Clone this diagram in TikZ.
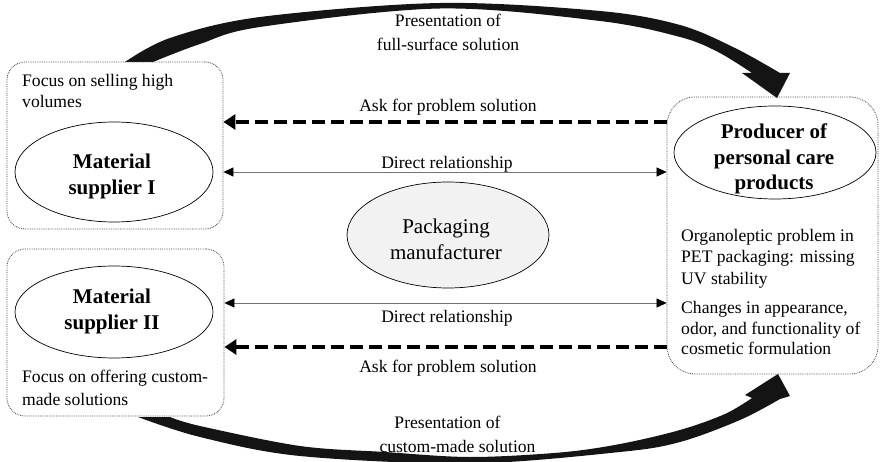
\documentclass[tikz,border=0pt]{standalone}
\usepackage{fontspec}
\setmainfont{Liberation Serif}
\usetikzlibrary{arrows.meta,shapes.geometric}
\begin{document}
\begin{tikzpicture}[x=1pt,y=-1pt,
  panel/.style={draw=black!75, densely dotted, line width=0.8pt, rectangle, inner sep=0pt},
  actor/.style={draw=black, line width=0.7pt, ellipse, inner sep=0pt},
  actortext/.style={font=\fontsize{21}{26}\selectfont\bfseries, align=center, inner sep=0pt, anchor=base},
  bodytext/.style={font=\fontsize{17.6}{21.5}\selectfont, inner sep=0pt, anchor=base west, align=left},
  flowlabel/.style={font=\fontsize{17.6}{24}\selectfont, inner sep=0pt, anchor=base, align=center},
  relation/.style={draw=black!55, line width=0.7pt,
    {Triangle[length=10pt,width=9pt,black]}-{Triangle[length=10pt,width=9pt,black]}},
  request/.style={draw=black, line width=4pt, dash pattern=on 12.5pt off 6.5pt,
    -{Triangle[length=12pt,width=15pt]}},
  bigflow/.style={fill=black!92},
]
\useasboundingbox (0,0) rectangle (880,462);

% heavy curved flows: offers presented to the producer
\fill[bigflow] plot[smooth, tension=0.55] coordinates
    {(125,62) (170,38) (260,17) (440,3) (600,11) (680,25) (735,48) (780,73)}
  -- (790,73) -- (777,98) -- (742,73) -- (752,73)
  -- plot[smooth, tension=0.55] coordinates
    {(752,73) (718,52) (680,37) (600,21) (440,8.5) (260,27) (200,44) (153,62)} -- cycle;
\fill[bigflow] plot[smooth, tension=0.55] coordinates
    {(138,417) (200,437) (300,456) (470,463.5) (620,452) (680,442) (740,420) (780,399)}
  -- (790,396) -- (778,374) -- (745,395) -- (752,398)
  -- plot[smooth, tension=0.55] coordinates
    {(752,398) (725,414) (680,430) (620,444) (560,452.5) (470,457) (385,452) (300,446) (200,426) (170,417)} -- cycle;

% actor panels
\node[panel, rounded corners=18pt, minimum width=216, minimum height=167] (s1box) at (115,145.5) {};
\node[panel, rounded corners=18pt, minimum width=217, minimum height=167] (s2box) at (115.5,332.5) {};
\node[panel, rounded corners=28pt, minimum width=211, minimum height=277] (prodbox) at (772.5,235.5) {};

% actors (multi-line texts are placed by the baseline of their last line)
\node[actor, minimum width=198, minimum height=100] (s1) at (114,172) {};
\node[actortext] (s1t) at (112,195) {Material\\supplier I};
\node[actor, minimum width=198, minimum height=92] (s2) at (114,312) {};
\node[actortext] (s2t) at (112,329.5) {Material\\supplier II};
\node[actor, minimum width=202, minimum height=93] (prod) at (775,152.5) {};
\node[actortext, font=\fontsize{21}{25.5}\selectfont\bfseries] (prodt) at (774,190) {Producer of\\personal care\\products};
\node[actor, fill=black!5, minimum width=202, minimum height=106] (pack) at (448,235) {};
\node[actortext, font=\fontsize{21}{26}\selectfont] (packt) at (446,259.5) {Packaging\\manufacturer};

% panel descriptions
\node[bodytext, font=\fontsize{17.6}{21}\selectfont] (s1d) at (22,108) {Focus on selling high\\volumes};
\node[bodytext, font=\fontsize{17.6}{23}\selectfont] (s2d) at (22,405) {Focus on offering custom-\\made solutions};
\node[bodytext] (pd1) at (681,284) {Organoleptic problem in\\PET packaging: missing\\UV stability};
\node[bodytext, font=\fontsize{17.6}{20.5}\selectfont] (pd2) at (681,354.5) {Changes in appearance,\\odor, and functionality of\\cosmetic formulation};

% connector heights
\coordinate (askA) at (0,122);
\coordinate (relA) at (0,172);
\coordinate (relB) at (0,303);
\coordinate (askB) at (0,347);

% requests and direct relationships
\draw[request] (prodbox.west |- askA) -- (s1box.east |- askA);
\draw[relation] (s1box.east |- relA) -- (prodbox.west |- relA);
\draw[relation] (s2box.east |- relB) -- (prodbox.west |- relB);
\draw[request] (prodbox.west |- askB) -- (s2box.east |- askB);

% connector labels
\node[flowlabel] (presA) at (448,51) {Presentation of\\full-surface solution};
\node[flowlabel] (askAt) at (448,111.5) {Ask for problem solution};
\node[flowlabel] (relAt) at (447,168.5) {Direct relationship};
\node[flowlabel] (relBt) at (447,322.5) {Direct relationship};
\node[flowlabel] (askBt) at (448,372) {Ask for problem solution};
\node[flowlabel] (presB) at (457.5,452.5) {Presentation of\hspace*{20pt}\\custom-made solution};
\end{tikzpicture}
\end{document}
